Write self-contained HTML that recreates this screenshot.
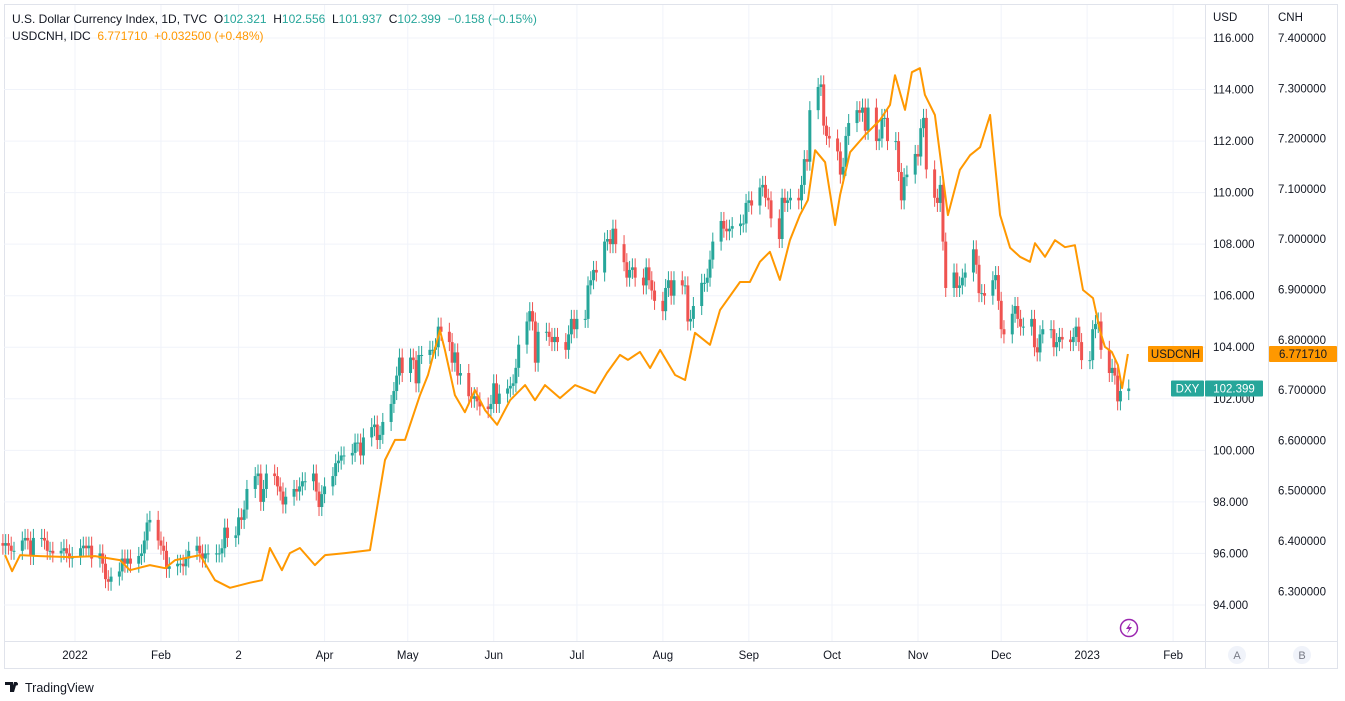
<!DOCTYPE html>
<html><head><meta charset="utf-8">
<style>
body{margin:0;background:#fff;font-family:"Liberation Sans",sans-serif;}
#wrap{position:relative;width:1345px;height:701px;overflow:hidden;background:#fff;}
svg text{font-family:"Liberation Sans",sans-serif;}
</style></head>
<body>
<div id="wrap">
<svg id="chart" width="1345" height="701"></svg>
</div>
<script>
// ---- DXY daily closes, trading days starting Mon 2021-12-06 ----
const dxyStart = "2021-12-06";
const dxyCloses = [
96.3,96.4,96.3,96.1,96.1, 96.5,96.6,96.5,95.9,96.6, 96.6,96.5,96.1,96.1,96.0, 96.1,96.2,96.0,95.8,95.9,
96.2,96.3,96.2,96.3,95.8, 96.0,95.6,95.0,94.9,95.1, 95.3,95.8,95.6,95.8,95.6, 95.9,96.0,96.5,97.2,97.3,
96.5,96.3,96.1,95.4,95.5, 95.6,95.6,95.5,95.8,96.1, 96.3,96.0,95.8,96.0,96.0, 96.0,96.0,96.2,97.0,96.6,
96.7,97.4,97.3,97.7,98.5, 99.0,99.1,98.0,98.5,99.1, 99.0,98.6,98.4,97.9,98.2, 98.5,98.4,98.6,98.8,98.8,
99.1,98.4,97.8,98.3,98.6, 99.0,99.5,99.6,99.8,99.8, 99.9,100.3,100.3,99.8,100.5, 100.9,101.0,100.4,100.6,101.1,
101.8,102.3,102.9,103.6,103.0, 103.6,103.5,102.6,103.7,103.7, 103.9,103.9,104.0,104.8,104.6, 104.2,103.4,103.8,102.9,103.0,
102.1,102.0,102.1,101.9,101.7, 101.6,101.8,102.6,101.8,102.2, 102.4,102.5,102.6,103.2,104.1, 105.0,105.4,105.0,103.4,104.6,
104.6,104.4,104.2,104.4,104.2, 103.9,104.5,105.1,104.7,105.1, 105.1,106.4,106.6,107.0,106.9, 108.1,108.2,108.0,108.6,108.0,
107.3,106.7,107.0,107.1,106.7, 106.4,107.1,106.6,106.2,105.8, 105.4,106.3,106.6,106.0,106.6, 106.4,106.4,105.0,105.1,105.6,
106.5,106.5,106.7,107.4,108.1, 108.9,108.6,108.5,108.6,108.7, 108.8,108.8,109.6,109.7,109.5, 110.2,110.3,109.8,109.7,109.0,
108.2,109.8,109.6,109.7,109.8, 109.7,110.3,111.3,111.2,113.2, 114.1,114.2,112.6,112.2,112.1, 111.6,110.7,111.0,112.2,112.7,
113.2,113.1,113.3,112.4,113.3, 112.0,112.1,112.9,112.9,112.0, 112.0,110.8,109.7,110.6,110.7, 111.5,111.4,112.5,112.9,110.9,
109.8,109.6,110.3,108.1,106.3, 106.9,106.3,106.4,106.7,106.9, 107.8,107.2,106.1,106.1,106.0, 106.6,106.8,105.8,104.7,104.5,
105.3,105.6,105.1,104.8,104.8, 105.1,104.0,103.8,104.5,104.7, 104.7,104.0,104.2,104.4,104.3, 104.2,104.4,104.8,104.2,103.5,
103.5,104.7,104.9,105.0,103.9, 103.0,103.2,102.9,101.9,102.3, 102.399
];
// ---- USDCNH line: day offset from 2022-01-01, value ----
const cnhDays = [-25.2,-22.7,-19.8,-12.6,-1.8,7.2,16.2,19.8,27.0,32.5,36.1,45.1,50.5,55.9,63.1,67.4,70.3,74.6,77.5,81.1,86.5,90.2,97.4,106.4,111.8,115.4,119.0,124.4,127.3,131.6,133.4,137.0,140.6,144.2,147.9,152.2,156.9,162.3,165.9,169.5,174.9,180.3,187.5,191.8,196.5,199.4,203.7,207.4,211.0,216.4,220.0,223.6,229.0,232.6,239.8,243.4,247.0,250.6,254.2,257.8,261.4,264.3,266.9,270.5,274.1,275.9,279.5,284.9,290.3,293.9,295.7,299.3,301.8,304.7,306.5,310.1,314.8,319.1,322.8,326.4,330.0,333.6,337.2,340.8,344.4,346.2,349.8,353.4,357.0,360.6,363.5,367.1,369.6,371.4,373.9,376.1,377.6,379.7];
const cnhValues = [6.372,6.340,6.372,6.370,6.368,6.370,6.362,6.342,6.352,6.346,6.362,6.372,6.322,6.307,6.317,6.322,6.386,6.342,6.376,6.386,6.352,6.372,6.376,6.382,6.561,6.601,6.601,6.690,6.730,6.819,6.780,6.690,6.656,6.700,6.660,6.631,6.680,6.710,6.680,6.710,6.684,6.710,6.694,6.734,6.770,6.760,6.776,6.744,6.780,6.730,6.720,6.814,6.790,6.859,6.915,6.915,6.955,6.975,6.919,6.998,7.048,7.078,7.177,7.153,7.028,7.088,7.173,7.207,7.237,7.267,7.326,7.257,7.332,7.340,7.287,7.247,7.048,7.138,7.167,7.183,7.247,7.048,6.983,6.965,6.955,6.992,6.965,6.998,6.984,6.988,6.899,6.883,6.819,6.786,6.776,6.750,6.704,6.77171];
const usdTicks = [94,96,98,100,102,104,106,108,110,112,114,116];
const cnhTicks = [6.3,6.4,6.5,6.6,6.7,6.8,6.9,7.0,7.1,7.2,7.3,7.4];
const monthLabels = ["2022","Feb","2","Apr","May","Jun","Jul","Aug","Sep","Oct","Nov","Dec","2023","Feb"];
const monthDays = [0,31,59,90,120,151,181,212,243,273,304,334,365,396];

const NS="http://www.w3.org/2000/svg";
const svg=document.getElementById('chart');
function mk(tag,attrs,parent){const e=document.createElementNS(NS,tag);for(const k in attrs)e.setAttribute(k,attrs[k]);(parent||svg).appendChild(e);return e;}
const xDay=d=>75+d*2.773;
const yUsd=v=>38+(116-v)*25.77;
const yCnh=v=>38+(7.4-v)*503;
const PL=4,PR=1205,PT=5,PB=641;

const frame=mk('rect',{x:4.5,y:4.5,width:1333,height:664,fill:'none',stroke:'#e0e3eb'});


const grid=mk('g',{});


usdTicks.forEach(t=>{mk('line',{x1:PL,x2:PR,y1:yUsd(t),y2:yUsd(t),stroke:'#f0f3fa'},grid);});
monthDays.forEach(d=>{mk('line',{x1:xDay(d),x2:xDay(d),y1:PT,y2:PB,stroke:'#f0f3fa'},grid);});
[[1205.5,4,669],[1268.5,4,669]].forEach(a=>{const l=mk('line',{x1:a[0],x2:a[0],y1:a[1],y2:a[2],stroke:'#e0e3eb'});});
const bl=mk('line',{x1:4,x2:1338,y1:641.5,y2:641.5,stroke:'#e0e3eb'});



const cg=mk('g',{});


const start=new Date(dxyStart+"T00:00:00Z"), jan1=Date.UTC(2022,0,1);
let dt=new Date(start);
for(let i=0;i<dxyCloses.length;i++){
  while(dt.getUTCDay()===0||dt.getUTCDay()===6) dt=new Date(dt.getTime()+864e5);
  const day=(dt.getTime()-jan1)/864e5;
  const c=dxyCloses[i], o=i>0?dxyCloses[i-1]:c+0.1;
  const up=c>=o, col=up?'#26a69a':'#ef5350';
  const x=xDay(day);
  const hi=Math.max(o,c)+0.35, lo=Math.min(o,c)-0.35;
  const w=mk('line',{x1:x,x2:x,y1:yUsd(hi),y2:yUsd(lo),stroke:col,'stroke-width':1},cg);
  
  
  const yt=yUsd(Math.max(o,c)), yb=yUsd(Math.min(o,c));
  const b=mk('rect',{x:x-1.5,y:yt,width:3,height:Math.max(1,yb-yt),fill:col},cg);
  
  
  dt=new Date(dt.getTime()+864e5);
}
const pts=cnhDays.map((d,i)=>xDay(d).toFixed(1)+','+yCnh(cnhValues[i]).toFixed(1)).join(' ');
const pl=mk('polyline',{points:pts,fill:'none',stroke:'#ff9800','stroke-width':2,'stroke-linejoin':'round'});



const ag=mk('g',{'font-size':11.5,fill:'#131722'});


const t1=mk('text',{x:1213,y:21},ag);t1.textContent='USD';


const t2=mk('text',{x:1278,y:21},ag);t2.textContent='CNH';


usdTicks.forEach(t=>{const e=mk('text',{x:1213,y:yUsd(t)+4},ag);e.textContent=t.toFixed(3);
  
  });
cnhTicks.forEach(t=>{const e=mk('text',{x:1278,y:yCnh(t)+4},ag);e.textContent=t.toFixed(6);
  
  });
const tg=mk('g',{'font-size':11.5,fill:'#131722','text-anchor':'middle'});


monthLabels.forEach((m,i)=>{const e=mk('text',{x:xDay(monthDays[i]),y:659},tg);e.textContent=m;
  
  });

const lastC=cnhValues[cnhValues.length-1], lastD=dxyCloses[dxyCloses.length-1];
const yc=yCnh(lastC), yd=yUsd(lastD);
function tag(x,y,w,fill,txt,name,col){const g=mk('g',{});
  mk('rect',{x:x,y:y-8,width:w,height:16,fill:fill,rx:1},g);
  const t=mk('text',{x:x+w/2,y:y+4,'text-anchor':'middle','font-size':11.5,fill:col},g);t.textContent=txt;}
tag(1148,yc,55,'#ff9800','USDCNH','usdcnh-series-tag','#131722');
tag(1269,yc,68,'#ff9800',lastC.toFixed(6),'usdcnh-price-tag','#131722');
tag(1171,yd,33,'#26a69a','DXY','dxy-series-tag','#ffffff');
tag(1205,yd,58,'#26a69a',lastD.toFixed(3),'dxy-price-tag','#ffffff');

[['A',1237],['B',1302]].forEach(b=>{const g=mk('g',{});
  mk('circle',{cx:b[1],cy:655,r:9,fill:'#f0f3fa'},g);
  const t=mk('text',{x:b[1],y:659,'text-anchor':'middle','font-size':11,fill:'#787b86'},g);t.textContent=b[0];});
const lg=mk('g',{});
mk('circle',{cx:1129,cy:628,r:8.5,fill:'none',stroke:'#9c27b0','stroke-width':1.5},lg);
mk('path',{d:'M1131,622 L1126,629 L1129,629 L1127,634 L1132,627 L1129,627 Z',fill:'#9c27b0'},lg);

const hg=mk('g',{'font-size':12});


const l1=mk('text',{x:12,y:23,fill:'#131722'},hg);


l1.style.whiteSpace='pre';
l1.innerHTML='U.S. Dollar Currency Index, 1D, TVC  O<tspan fill="#26a69a">102.321</tspan>  H<tspan fill="#26a69a">102.556</tspan>  L<tspan fill="#26a69a">101.937</tspan>  C<tspan fill="#26a69a">102.399</tspan>  <tspan fill="#26a69a">−0.158 (−0.15%)</tspan>';
const l2=mk('text',{x:12,y:40,fill:'#131722'},hg);


l2.style.whiteSpace='pre';
l2.innerHTML='USDCNH, IDC  <tspan fill="#ff9800">6.771710  +0.032500 (+0.48%)</tspan>';
const lo=mk('g',{});
mk('path',{d:'M5,682 h8 v10 h-3 v-7 h-5 Z M14,682 h3 l-3,10 h-3 Z',fill:'#131722'},lo);
mk('circle',{cx:16.5,cy:684,r:1.5,fill:'#131722'},lo);
const lt=mk('text',{x:25,y:692,'font-size':12.5,fill:'#131722'},lo);lt.textContent='TradingView';
</script>
</body></html>
